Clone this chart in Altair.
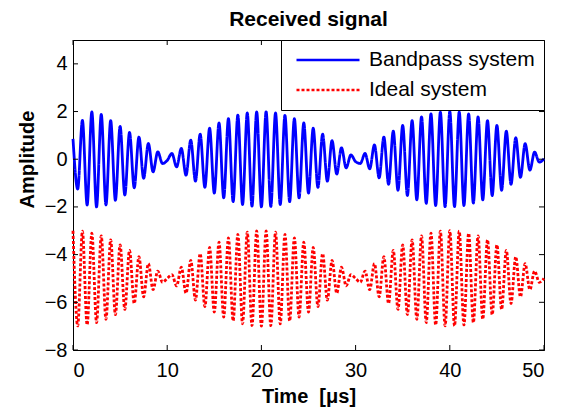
import altair as alt
import pandas as pd

# ---- data (extrema of each signal, every half microsecond) ----
TIME = [0, 0.5, 1, 1.5, 2, 2.5, 3, 3.5, 4, 4.5, 5, 5.5, 6, 6.5, 7, 7.5, 8, 8.5, 9, 9.5,
        10, 10.5, 11, 11.5, 12, 12.5, 13, 13.5, 14, 14.5, 15, 15.5, 16, 16.5, 17, 17.5, 18, 18.5, 19, 19.5,
        20, 20.5, 21, 21.5, 22, 22.5, 23, 23.5, 24, 24.5, 25, 25.5, 26, 26.5, 27, 27.5, 28, 28.5, 29, 29.5,
        30, 30.5, 31, 31.5, 32, 32.5, 33, 33.5, 34, 34.5, 35, 35.5, 36, 36.5, 37, 37.5, 38, 38.5, 39, 39.5,
        40, 40.5, 41, 41.5, 42, 42.5, 43, 43.5, 44, 44.5, 45, 45.5, 46, 46.5, 47, 47.5, 48, 48.5, 49, 49.5,
        50]

BANDPASS = [0.85, -1.25, 1.63, -1.92, 1.98, -2.00, 1.88, -1.92, 1.62, -1.72, 1.38, -1.50, 1.12, -1.20, 0.93, -0.80, 0.66, -0.53, 0.31, -0.18,
            -0.05, 0.24, -0.32, 0.45, -0.67, 0.80, -0.92, 1.05, -1.18, 1.30, -1.42, 1.52, -1.62, 1.70, -1.78, 1.85, -1.90, 1.94, -1.97, 1.99,
            -2.00, 1.99, -1.98, 1.94, -1.90, 1.84, -1.78, 1.70, -1.62, 1.52, -1.42, 1.30, -1.18, 1.05, -0.92, 0.78, -0.62, 0.48, -0.36, 0.18,
            -0.10, -0.18, 0.24, -0.40, 0.60, -0.78, 0.93, -1.05, 1.18, -1.30, 1.42, -1.52, 1.62, -1.70, 1.78, -1.85, 1.90, -1.94, 1.97, -1.99,
            2.00, -1.99, 1.98, -1.94, 1.90, -1.84, 1.78, -1.70, 1.62, -1.52, 1.42, -1.30, 1.18, -1.05, 0.90, -0.76, 0.65, -0.46, 0.30, -0.12,
            0.02]

IDEAL = [-3.00, -6.99, -3.02, -6.95, -3.10, -6.85, -3.22, -6.71, -3.38, -6.52, -3.59, -6.30, -3.82, -6.05, -4.09, -5.77, -4.38, -5.47, -4.69, -5.16,
         -5.00, -4.84, -5.31, -4.53, -5.62, -4.24, -5.91, -3.96, -6.18, -3.70, -6.41, -3.48, -6.62, -3.30, -6.78, -3.15, -6.90, -3.06, -6.98, -3.01,
         -7.00, -3.01, -6.98, -3.06, -6.90, -3.15, -6.78, -3.30, -6.62, -3.48, -6.41, -3.70, -6.18, -3.96, -5.91, -4.24, -5.62, -4.53, -5.31, -4.84,
         -5.00, -5.16, -4.69, -5.47, -4.38, -5.77, -4.09, -6.05, -3.82, -6.30, -3.59, -6.52, -3.38, -6.71, -3.22, -6.85, -3.10, -6.95, -3.02, -6.99,
         -3.00, -6.99, -3.02, -6.95, -3.10, -6.85, -3.22, -6.71, -3.38, -6.52, -3.59, -6.30, -3.82, -6.05, -4.09, -5.77, -4.38, -5.47, -4.69, -5.16,
         -5.00]

SERIES = ["Bandpass system", "Ideal system"]
COLORS = ["#0000ff", "#ff0000"]
XTICKS = [0, 10, 20, 30, 40, 50]
YTICKS = [-8, -6, -4, -2, 0, 2, 4]

W, H = 471, 310
FONT = "Liberation Sans"

rows = []
for t, v in zip(TIME, BANDPASS):
    rows.append({"t": t, "v": v, "series": SERIES[0]})
for t, v in zip(TIME, IDEAL):
    rows.append({"t": t, "v": v, "series": SERIES[1]})
df = pd.DataFrame(rows)

xscale = alt.Scale(domain=[0, 50], nice=False, zero=False)
yscale = alt.Scale(domain=[-8, 5], nice=False, zero=False)

xaxis = alt.Axis(values=XTICKS, title="Time \u00a0[μs]", titleX=W / 2, titleY=52,
                 titleBaseline="alphabetic", labelPadding=10, ticks=False, tickSize=0, grid=False)
yaxis = alt.Axis(values=YTICKS, title="Amplitude", titleX=-46, titleY=119, titleAngle=270,
                 titleBaseline="middle", labelPadding=6, ticks=False, tickSize=0, grid=False)

legend = alt.Legend(
    title=None, orient="top-right", offset=0,
    strokeColor="black", fillColor="white", cornerRadius=0, padding=9,
    symbolType="stroke", symbolSize=3969, symbolStrokeWidth=2.5, symbolOffset=5,
    clipHeight=22, rowPadding=8,
    labelFont=FONT, labelFontSize=21, labelColor="black", labelOffset=8,
    labelLimit=400,
)

lines = alt.Chart(df).mark_line(strokeWidth=2.8, interpolate="monotone").encode(
    x=alt.X("t:Q", scale=xscale, axis=xaxis),
    y=alt.Y("v:Q", scale=yscale, axis=yaxis),
    color=alt.Color("series:N", scale=alt.Scale(domain=SERIES, range=COLORS), legend=legend),
    strokeDash=alt.StrokeDash("series:N", scale=alt.Scale(domain=SERIES, range=[[1, 0], [3, 2]]), legend=legend),
)

xt = pd.DataFrame({"t": XTICKS})
yt = pd.DataFrame({"v": YTICKS})
tick_bottom = alt.Chart(xt).mark_rule(color="black", strokeWidth=1).encode(
    x=alt.X("t:Q", scale=xscale, axis=xaxis), y=alt.value(H), y2=alt.value(H - 5))
tick_top = alt.Chart(xt).mark_rule(color="black", strokeWidth=1).encode(
    x=alt.X("t:Q", scale=xscale, axis=xaxis), y=alt.value(0), y2=alt.value(5))
tick_left = alt.Chart(yt).mark_rule(color="black", strokeWidth=1).encode(
    y=alt.Y("v:Q", scale=yscale, axis=yaxis), x=alt.value(0), x2=alt.value(5))
tick_right = alt.Chart(yt).mark_rule(color="black", strokeWidth=1).encode(
    y=alt.Y("v:Q", scale=yscale, axis=yaxis), x=alt.value(W), x2=alt.value(W - 5))

chart = alt.layer(lines, tick_bottom, tick_top, tick_left, tick_right).properties(
    width=W, height=H,
    background="white",
    title=alt.TitleParams("Received signal", font=FONT, fontSize=21, fontWeight="bold",
                          color="black", anchor="middle", offset=10),
    autosize=alt.AutoSizeParams(type="none"),
    padding={"left": 73, "top": 40, "right": 19, "bottom": 60},
).configure_view(stroke="black", strokeWidth=1).configure_axis(
    grid=False, domainColor="black", domainWidth=1,
    labelFont=FONT, labelFontSize=20, labelColor="black",
    titleFont=FONT, titleFontSize=20, titleFontWeight="bold", titleColor="black",
)

chart.save("out.html", embed_options={"renderer": "svg", "actions": False})
